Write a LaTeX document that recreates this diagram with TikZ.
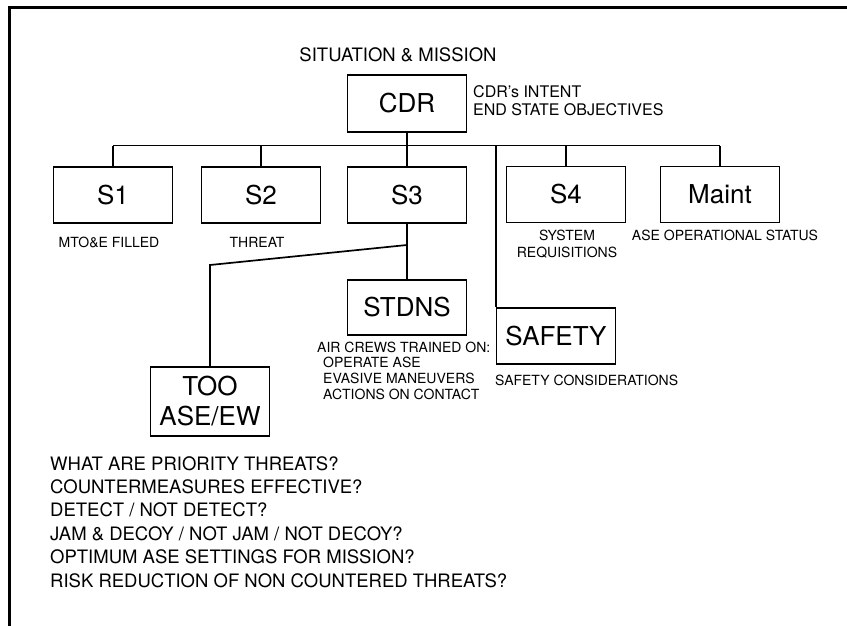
\documentclass[tikz,border=0pt]{standalone}
\usepackage{fontspec}
\setmainfont{TeX Gyre Heros}
\begin{document}
\begin{tikzpicture}[x=1pt,y=-1pt,
  box/.style={draw, line width=1.7pt, minimum width=119pt, minimum height=56pt,
    inner sep=0pt, align=center, font=\fontsize{26}{30}\selectfont},
  wire/.style={line width=1.7pt},
  frameline/.style={line width=2.6pt},
  lbl/.style={inner sep=0pt, font=\fontsize{14}{16}\selectfont},
  head/.style={inner sep=0pt, font=\fontsize{18.5}{22}\selectfont},
  item/.style={inner sep=0pt, anchor=base west, font=\fontsize{18.5}{22}\selectfont}]
\useasboundingbox (0,0) rectangle (847,626);
\fill[white] (0,0) rectangle (847,626);

% outer frame (top and left edges only)
\draw[frameline] (847,7.5) -- (9.5,7.5) -- (9.5,626);

% heading
\node[head, anchor=base] (sit) at (398,62) {SITUATION \& MISSION};

% commander
\node[box, minimum height=57pt] (cdr) at (407,103.5) {CDR};
\node[lbl, anchor=base west, font=\fontsize{16}{18}\selectfont] (intent) at (473,98) {CDR's INTENT};
\node[lbl, anchor=base west, font=\fontsize{16}{18}\selectfont] (endstate) at (473,115) {END STATE OBJECTIVES};

% staff sections
\node[box] (s1) at (113,195) {S1};
\node[box] (s2) at (261,195) {S2};
\node[box] (s3) at (407,195) {S3};
\node[box] (s4) at (566,194.5) {S4};
\node[box] (maint) at (720,194.5) {Maint};

\node[lbl, anchor=base] (l1) at (109,247) {MTO\&E FILLED};
\node[lbl, anchor=base] (l2) at (257,247) {THREAT};
\node[lbl, anchor=base] (l4a) at (567,240) {SYSTEM};
\node[lbl, anchor=base] (l4b) at (567,257) {REQUISITIONS};
\node[lbl, anchor=base] (lm) at (725,240) {ASE OPERATIONAL STATUS};

% lower level
\node[box, minimum height=55pt] (stdns) at (407,307.5) {STDNS};
\node[box] (safety) at (556,336) {SAFETY};
\node[box, minimum height=69pt] (too) at (210,401.5) {TOO\\ASE/EW};

\node[lbl, anchor=base west] (ac0) at (317,352) {AIR CREWS TRAINED ON:};
\node[lbl, anchor=base west] (ac1) at (323,367.5) {OPERATE ASE};
\node[lbl, anchor=base west] (ac2) at (323,383.5) {EVASIVE MANEUVERS};
\node[lbl, anchor=base west] (ac3) at (323,399.5) {ACTIONS ON CONTACT};
\node[lbl, anchor=base west] (sc) at (495,385) {SAFETY CONSIDERATIONS};

% questions
\node[item] (q1) at (50,470) {WHAT ARE PRIORITY THREATS?};
\node[item] (q2) at (50,493.4) {COUNTERMEASURES EFFECTIVE?};
\node[item] (q3) at (50,516.8) {DETECT / NOT DETECT?};
\node[item] (q4) at (50,540.2) {JAM \& DECOY / NOT JAM / NOT DECOY?};
\node[item] (q5) at (50,563.6) {OPTIMUM ASE SETTINGS FOR MISSION?};
\node[item] (q6) at (50,587) {RISK REDUCTION OF NON COUNTERED THREATS?};

% connectors
\coordinate (busy) at (0,145.5);
\coordinate (forky) at (0,245);
\coordinate (bendy) at (0,265);
\coordinate (fork) at (s3.south |- forky);
\coordinate (bend) at (too.north |- bendy);

\draw[wire] (s1.north |- busy) -- (maint.north |- busy);
\draw[wire] (cdr.south) -- (cdr.south |- busy);
\foreach \n in {s1,s2,s3,s4,maint}
  \draw[wire] (\n.north) -- (\n.north |- busy);
\draw[wire] (safety.north west |- busy) -- (safety.north west);
\draw[wire] (s3.south) -- (stdns.north);
\draw[wire] (fork) -- (bend) -- (too.north);
\end{tikzpicture}
\end{document}
